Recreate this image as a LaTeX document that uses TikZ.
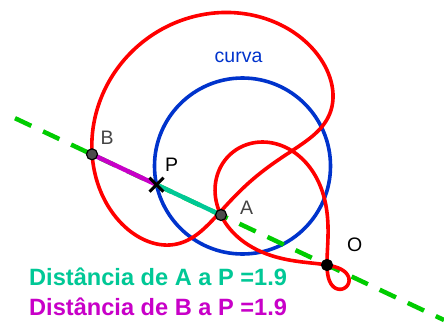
\documentclass[tikz,border=0pt]{standalone}
\usepackage{fontspec}
\setmainfont{Liberation Sans}
\begin{document}
\begin{tikzpicture}[x=1pt,y={(0pt,-1pt)},
  declare function={
    kx(\t)=242.5+88*cos(\t);
    ky(\t)=166+88*sin(\t);
    ll(\t)=veclen((kx(\t)-327)/100,(ky(\t)-265)/100);
    ux(\t)=(kx(\t)-327)/100/ll(\t);
    uy(\t)=(ky(\t)-265)/100/ll(\t);
  },
  curvestyle/.style={draw=red, line width=3.6pt},
  circstyle/.style={draw=blueC, line width=3.6pt},
  ptstyle/.style={circle, draw=black, fill=gray!60!black, line width=1.2pt, inner sep=0pt, minimum size=11pt},
  lbl/.style={font=\fontsize{19.5}{22}\selectfont, inner sep=0pt, anchor=base west},
  dist/.style={font=\fontsize{23.6}{26}\selectfont\bfseries, inner sep=0pt, anchor=base west}
]
\definecolor{blueC}{RGB}{0,51,204}
\definecolor{greenC}{RGB}{0,204,0}
\definecolor{tealC}{RGB}{0,200,150}
\definecolor{purpC}{RGB}{200,0,200}
\definecolor{grayL}{RGB}{68,68,68}
\useasboundingbox (0,0) rectangle (444,327);
\fill[white] (0,0) rectangle (444,327);

\coordinate (Lstart) at (15,118.2);
\coordinate (Lend) at (444,320);
\coordinate (O) at (327,265);
\coordinate (P) at (156.5,184.7);
\coordinate (A) at (221,215);
\coordinate (B) at (92,154.3);

% circle
\draw[circstyle] (242.5,166) circle[radius=88];

% dashed line
\draw[greenC, line width=4.5pt, dash pattern=on 18pt off 13pt] (Lstart) -- (Lend);

% conchoid
\draw[curvestyle] plot[domain=0:360, samples=361, smooth, variable=\t]
  ({kx(\t)+71.2*ux(\t)},{ky(\t)+71.2*uy(\t)}) -- cycle;
\draw[curvestyle] plot[domain=0:360, samples=721, smooth, variable=\t]
  ({kx(\t)-71.2*ux(\t)},{ky(\t)-71.2*uy(\t)}) -- cycle;

% segments
\draw[purpC, line width=4.5pt] (B) -- (P);
\draw[tealC, line width=4.5pt] (P) -- (A);

% marker at P
\draw[black, line width=3pt] ([shift={(-7,-7)}]P) -- ([shift={(7,7)}]P);
\draw[black, line width=3pt] ([shift={(-7,7)}]P) -- ([shift={(7,-7)}]P);

% points
\node[ptstyle] (nB) at (B) {};
\node[ptstyle] (nA) at (A) {};
\node[ptstyle, fill=black] (nO) at (O) {};

% labels
\node[lbl, text=grayL] (tB) at (100.5,144) {B};
\node[lbl, text=black] (tP) at (165,171) {P};
\node[lbl, text=grayL] (tA) at (240,214) {A};
\node[lbl, text=black] (tO) at (347,251) {O};
\node[lbl, text=blueC] (tc) at (214.5,62) {curva};

\node[dist, text=tealC] (d1) at (29,285.7) {Distância de A a P =1.9};
\node[dist, text=purpC] (d2) at (29,315) {Distância de B a P =1.9};
\end{tikzpicture}
\end{document}
